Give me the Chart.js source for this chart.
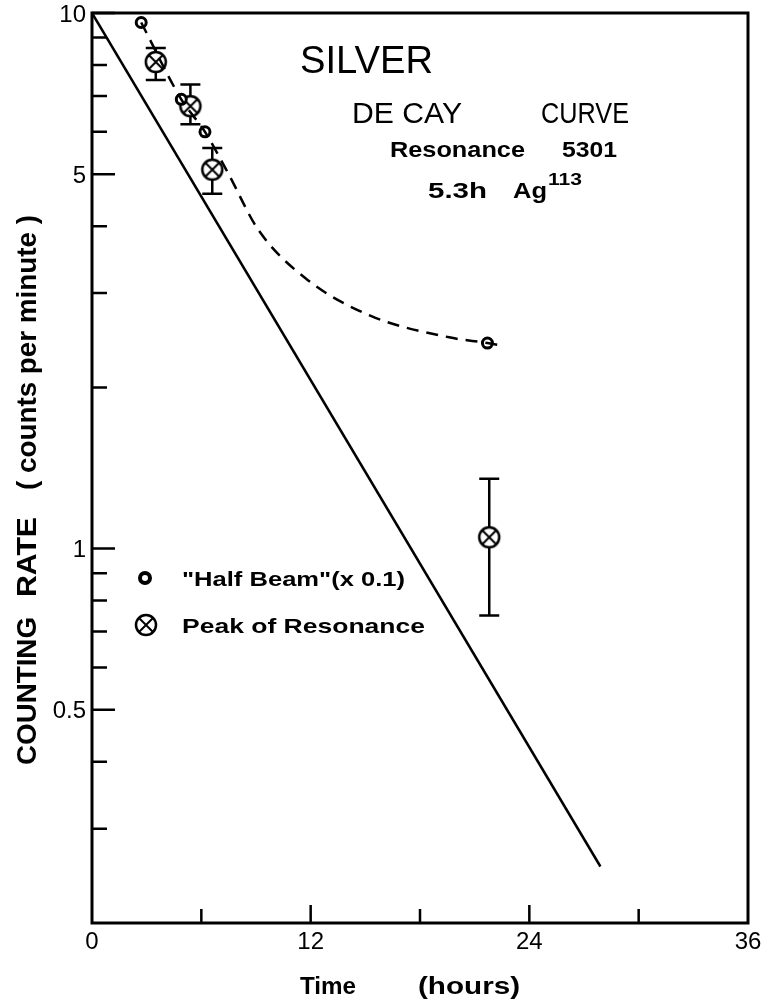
<!DOCTYPE html>
<html>
<head>
<meta charset="utf-8">
<script src="https://cdn.jsdelivr.net/npm/chart.js@4"></script>
<style>
  html, body { margin: 0; padding: 0; background: #fff; }
  #wrap { width: 768px; height: 1008px; }
</style>
</head>
<body>
<div id="wrap"><canvas id="decayChart"></canvas></div>
<script>
// "Half Beam" (x 0.1) readings
const halfBeamTime = [2.7, 4.9, 6.2, 21.7];
const halfBeamRate = [9.6, 6.9, 6.0, 2.42];

// Peak of resonance readings with error bars
const peakTime = [3.5, 5.4, 6.6, 21.8];
const peakRate = [8.1, 6.7, 5.1, 1.05];
const peakLow  = [7.5, 6.2, 4.6, 0.75];
const peakHigh = [8.6, 7.35, 5.6, 1.35];

// 5.3 h decay line
const fitTime = [0, 27.9];
const fitRate = [10, 0.255];

// dashed curve through the half beam points
const curveTime = [2.7, 4.9, 6.2, 7.5, 9.1, 11.7, 15.3, 19.6, 21.7, 22.6];
const curveRate = [9.6, 6.9, 6.0, 5.0, 3.95, 3.2, 2.72, 2.48, 2.42, 2.39];

// axes
const xTickLabels = [0, 12, 24, 36];
const xMajorTicks = [12, 24];
const xMinorTicks = [6, 18, 30];
const yTickLabels = ["10", "5", "1", "0.5"];
const yTickValues = [10, 5, 1, 0.5];
const yMinorTicks = [9, 8, 7, 6, 4, 3, 2, 0.9, 0.8, 0.7, 0.6, 0.4, 0.3];

const FONT = "'Liberation Sans', Arial, sans-serif";

function toXY(xs, ys) {
  return xs.map(function(x, i) { return { x: x, y: ys[i] }; });
}

// circle with a cross inside, used for the peak points
function crossCircle(r) {
  const c = document.createElement("canvas");
  const s = Math.ceil(r * 2 + 6);
  c.width = s; c.height = s;
  const g = c.getContext("2d");
  const m = s / 2;
  g.fillStyle = "#fff";
  g.strokeStyle = "#000";
  g.lineWidth = 2.5;
  g.beginPath(); g.arc(m, m, r, 0, Math.PI * 2); g.fill(); g.stroke();
  const d = r * 0.7;
  g.lineWidth = 2;
  g.beginPath();
  g.moveTo(m - d, m - d); g.lineTo(m + d, m + d);
  g.moveTo(m + d, m - d); g.lineTo(m - d, m + d);
  g.stroke();
  return c;
}
const peakMarker = crossCircle(10);

// draws text stretched to a given width
function fitText(ctx, txt, x, y, w) {
  const m = ctx.measureText(txt).width;
  ctx.save();
  ctx.translate(x, y);
  ctx.scale(w / m, 1);
  ctx.fillText(txt, 0, 0);
  ctx.restore();
}

const decoration = {
  id: "decoration",
  beforeDatasetsDraw: function(chart) {
    const ctx = chart.ctx, xs = chart.scales.x, ys = chart.scales.y;
    ctx.save();
    ctx.strokeStyle = "#000";
    ctx.lineWidth = 2.5;
    peakTime.forEach(function(t, i) {
      const px = xs.getPixelForValue(t);
      const lo = ys.getPixelForValue(peakLow[i]);
      const hi = ys.getPixelForValue(peakHigh[i]);
      ctx.beginPath();
      ctx.moveTo(px, lo); ctx.lineTo(px, hi);
      ctx.moveTo(px - 10, lo); ctx.lineTo(px + 10, lo);
      ctx.moveTo(px - 10, hi); ctx.lineTo(px + 10, hi);
      ctx.stroke();
    });
    ctx.restore();
  },
  afterDraw: function(chart) {
    const ctx = chart.ctx, a = chart.chartArea;
    const xs = chart.scales.x, ys = chart.scales.y;
    ctx.save();
    ctx.strokeStyle = "#000";
    ctx.fillStyle = "#000";

    // frame
    ctx.lineWidth = 3;
    ctx.strokeRect(a.left, a.top, a.right - a.left, a.bottom - a.top);

    // ticks, pointing inwards
    ctx.lineWidth = 2.5;
    ctx.beginPath();
    xMajorTicks.forEach(function(v) {
      const p = xs.getPixelForValue(v);
      ctx.moveTo(p, a.bottom); ctx.lineTo(p, a.bottom - 18);
    });
    xMinorTicks.forEach(function(v) {
      const p = xs.getPixelForValue(v);
      ctx.moveTo(p, a.bottom); ctx.lineTo(p, a.bottom - 14);
    });
    yTickValues.forEach(function(v) {
      const p = ys.getPixelForValue(v);
      ctx.moveTo(a.left, p); ctx.lineTo(a.left + 23, p);
    });
    yMinorTicks.forEach(function(v) {
      const p = ys.getPixelForValue(v);
      ctx.moveTo(a.left, p); ctx.lineTo(a.left + 15, p);
    });
    ctx.stroke();

    // tick labels
    ctx.font = "24px " + FONT;
    ctx.textBaseline = "middle";
    ctx.textAlign = "center";
    xTickLabels.forEach(function(v) {
      ctx.fillText(String(v), xs.getPixelForValue(v), a.bottom + 19);
    });
    ctx.textAlign = "right";
    yTickValues.forEach(function(v, i) {
      ctx.fillText(yTickLabels[i], a.left - 6, ys.getPixelForValue(v) + 2);
    });

    // axis titles
    ctx.textAlign = "left";
    ctx.textBaseline = "alphabetic";
    ctx.font = "bold 23px " + FONT;
    fitText(ctx, "Time", 300, 994, 56);
    fitText(ctx, "(hours)", 418, 994, 102);

    ctx.save();
    ctx.translate(36, 0);
    ctx.rotate(-Math.PI / 2);
    ctx.font = "bold 27px " + FONT;
    fitText(ctx, "COUNTING", -765, 0, 148);
    fitText(ctx, "RATE", -597, 0, 80);
    fitText(ctx, "( counts per minute )", -490, 0, 275);
    ctx.restore();

    // title block
    ctx.font = "38px " + FONT;
    fitText(ctx, "SILVER", 300, 73, 133);
    ctx.font = "29px " + FONT;
    fitText(ctx, "DE CAY", 352, 123, 110);
    fitText(ctx, "CURVE", 541, 123, 88);
    ctx.font = "bold 22px " + FONT;
    fitText(ctx, "Resonance", 390, 157, 135);
    fitText(ctx, "5301", 562, 157, 55);
    fitText(ctx, "5.3h", 428, 198, 59);
    fitText(ctx, "Ag", 513, 198, 34);
    ctx.font = "bold 16px " + FONT;
    fitText(ctx, "113", 548, 185, 34);

    // legend
    ctx.lineWidth = 4;
    ctx.beginPath(); ctx.arc(145, 578, 5, 0, Math.PI * 2); ctx.stroke();
    ctx.drawImage(peakMarker, 146 - peakMarker.width / 2, 625 - peakMarker.height / 2);
    ctx.font = "bold 21px " + FONT;
    fitText(ctx, "\"Half Beam\"(x 0.1)", 182, 586, 223);
    fitText(ctx, "Peak of Resonance", 182, 633, 243);

    ctx.restore();
  }
};

new Chart(document.getElementById("decayChart"), {
  type: "scatter",
  data: {
    datasets: [
      {
        label: "5.3h",
        data: toXY(fitTime, fitRate),
        showLine: true,
        borderColor: "#000",
        borderWidth: 2.5,
        pointRadius: 0
      },
      {
        label: "curve",
        data: toXY(curveTime, curveRate),
        showLine: true,
        borderColor: "#000",
        borderWidth: 2.5,
        borderDash: [12, 8],
        cubicInterpolationMode: "monotone",
        pointRadius: 0
      },
      {
        label: "Half Beam",
        data: toXY(halfBeamTime, halfBeamRate),
        pointStyle: "circle",
        pointRadius: 5,
        borderWidth: 3,
        borderColor: "#000",
        backgroundColor: "#fff",
        clip: false
      },
      {
        label: "Peak of Resonance",
        data: toXY(peakTime, peakRate),
        pointStyle: peakMarker,
        clip: false
      }
    ]
  },
  options: {
    responsive: true,
    maintainAspectRatio: false,
    animation: false,
    layout: { padding: { left: 92, top: 13, right: 20, bottom: 85 } },
    scales: {
      x: { type: "linear", min: 0, max: 36, display: false },
      y: { type: "logarithmic", min: 0.2, max: 10, display: false }
    },
    plugins: {
      legend: { display: false },
      tooltip: { enabled: false }
    }
  },
  plugins: [decoration]
});
</script>
</body>
</html>
